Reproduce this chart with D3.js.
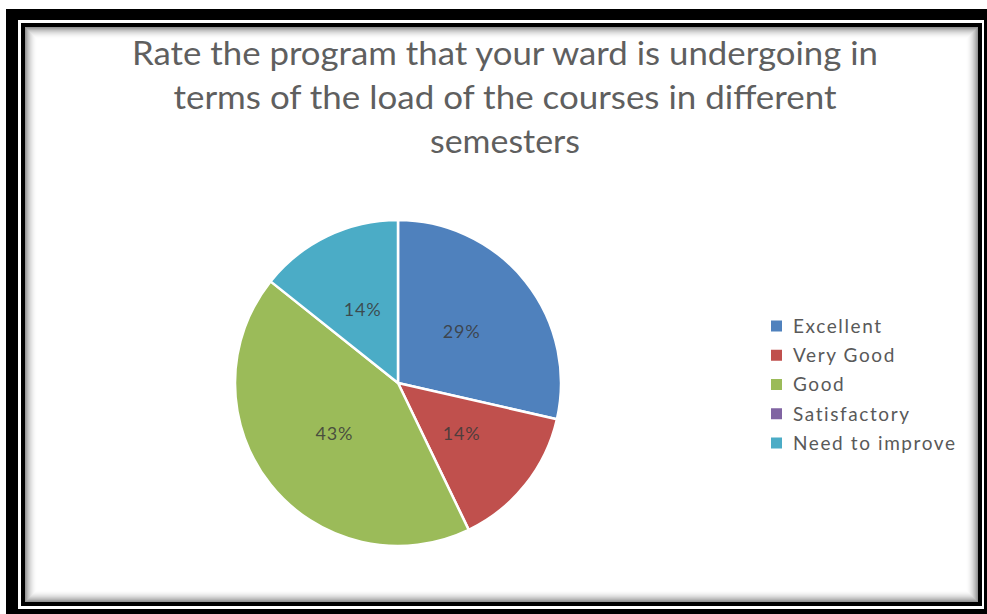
<!DOCTYPE html>
<html>
<head>
<meta charset="utf-8">
<script src="https://cdn.jsdelivr.net/npm/d3@7"></script>
<style>
  html, body { margin: 0; padding: 0; background: #ffffff; }
  svg { display: block; }
</style>
</head>
<body>
<svg id="chart" width="987" height="614"></svg>
<script>
const titleLines = [
  "Rate the program that your ward is undergoing in",
  "terms of the load of the courses in different",
  "semesters"
];
const categories = ["Excellent", "Very Good", "Good", "Satisfactory", "Need to improve"];
const counts = [2, 1, 3, 0, 1];
const colors = ["#4F81BD", "#C0504D", "#9BBB59", "#8064A2", "#4BACC6"];

const W = 987, H = 614;
const svg = d3.select("#chart");

// background
svg.append("rect").attr("x", 0).attr("y", 0).attr("width", W).attr("height", H).attr("fill", "#ffffff");

// outer thick black frame
svg.append("rect").attr("x", 6).attr("y", 9).attr("width", W - 6).attr("height", H - 9).attr("fill", "#000");
svg.append("rect").attr("x", 18).attr("y", 20).attr("width", 984 - 18).attr("height", 609 - 20).attr("fill", "#fff");
// inner black frame
svg.append("rect").attr("x", 21).attr("y", 23).attr("width", 982 - 21).attr("height", 606 - 23).attr("fill", "#000");
svg.append("rect").attr("x", 25).attr("y", 27).attr("width", 978 - 25).attr("height", 602 - 27).attr("fill", "#fff");

// inner shadow (gray fade from the inner frame)
const shadowSteps = 12;
for (let i = 0; i < shadowSteps; i++) {
  const op = 0.42 * Math.pow(1 - i / shadowSteps, 2);
  svg.append("rect")
    .attr("x", 25.5 + i).attr("y", 27.5 + i)
    .attr("width", (978 - 25) - 1 - 2 * i).attr("height", (602 - 27) - 1 - 2 * i)
    .attr("fill", "none").attr("stroke", "#000").attr("stroke-opacity", op).attr("stroke-width", 1);
}

// title
const titleFont = "Lato, 'Open Sans', sans-serif";
const titleY = [65, 109, 153];
const titleWidths = [746, 663, 150];
svg.append("g").selectAll("text").data(titleLines).join("text")
  .attr("x", 505)
  .attr("y", (d, i) => titleY[i])
  .attr("text-anchor", "middle")
  .attr("font-family", titleFont)
  .attr("font-size", 33)
  .attr("fill", "#5f5f5f")
  .attr("textLength", (d, i) => titleWidths[i])
  .attr("lengthAdjust", "spacingAndGlyphs")
  .text(d => d);

// pie
const cx = 398, cy = 383, R = 163;
const total = d3.sum(counts);
const pie = d3.pie().sort(null).value(d => d.value);
const arcs = pie(categories.map((c, i) => ({ name: c, value: counts[i], color: colors[i] })));
const arc = d3.arc().innerRadius(0).outerRadius(R);
const labelArc = d3.arc().innerRadius(R * 0.5).outerRadius(R * 0.5);

const g = svg.append("g").attr("transform", `translate(${cx},${cy})`);
g.selectAll("path").data(arcs.filter(d => d.data.value > 0)).join("path")
  .attr("d", arc)
  .attr("fill", d => d.data.color)
  .attr("stroke", "#ffffff")
  .attr("stroke-width", 2.5)
  .attr("stroke-linejoin", "round");

g.selectAll("text").data(arcs.filter(d => d.data.value > 0)).join("text")
  .attr("transform", d => `translate(${labelArc.centroid(d)})`)
  .attr("text-anchor", "middle")
  .attr("dy", "0.35em")
  .attr("font-family", titleFont)
  .attr("font-size", 18)
  .attr("letter-spacing", 0.8)
  .attr("fill", "#3a3a3a")
  .attr("fill-opacity", 0.85)
  .text(d => Math.round(d.data.value / total * 100) + "%");

// legend
const legendY = d3.scalePoint().domain(categories).range([326, 443]);
const lg = svg.append("g");
const items = lg.selectAll("g").data(categories).join("g")
  .attr("transform", d => `translate(771,${legendY(d)})`);
items.append("rect")
  .attr("x", 0).attr("y", -5.5).attr("width", 11).attr("height", 11)
  .attr("fill", (d, i) => colors[i]);
items.append("text")
  .attr("x", 22).attr("y", 0).attr("dy", "0.36em")
  .attr("font-family", titleFont)
  .attr("font-size", 19)
  .attr("letter-spacing", 1.6)
  .attr("fill", "#595959")
  .text(d => d);
</script>
</body>
</html>
